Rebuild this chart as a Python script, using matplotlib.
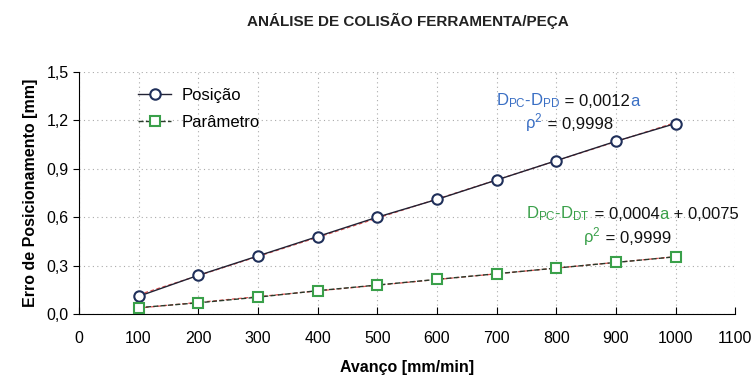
import numpy as np
import matplotlib
matplotlib.use("Agg")
import matplotlib.pyplot as plt
from matplotlib.offsetbox import TextArea, HPacker, AnnotationBbox
from matplotlib.ticker import FuncFormatter

plt.rcParams['font.family'] = ['Liberation Sans', 'DejaVu Sans']

avanco = [100, 200, 300, 400, 500, 600, 700, 800, 900, 1000]
posicao = [0.11, 0.24, 0.36, 0.48, 0.60, 0.71, 0.83, 0.95, 1.07, 1.18]
parametro = [0.04, 0.07, 0.105, 0.145, 0.18, 0.215, 0.25, 0.285, 0.32, 0.355]

blue = '#3a6fc4'
green = '#3aa04a'
navy = '#1f2f5a'

fig = plt.figure(figsize=(7.51, 3.78), dpi=100)
ax = fig.add_axes([0.105, 0.169, 0.874, 0.641])

ax.plot(avanco, posicao, '-', color='#222233', lw=1.0, marker='o', ms=7.5,
        mfc='white', mec=navy, mew=1.5, label='Posição', zorder=3)
ax.plot(avanco, parametro, '--', color='#2a3a2a', lw=1.0, marker='s', ms=7.5,
        mfc='white', mec=green, mew=1.5, label='Parâmetro', zorder=3)

# linhas de tendencia
xs = np.array(avanco)
for ys in (posicao, parametro):
    k, b = np.polyfit(xs, ys, 1)
    ax.plot(xs, k * xs + b, '--', color='#e05050', lw=0.9, dashes=(3, 2), zorder=2)

ax.set_xlim(0, 1100)
ax.set_ylim(0, 1.5)
ax.set_xticks(range(0, 1101, 100))
ax.set_yticks(np.arange(0, 1.51, 0.3))
ax.yaxis.set_major_formatter(FuncFormatter(lambda v, p: f'{v:.1f}'.replace('.', ',')))
ax.grid(True, ls=(0, (1, 3)), color='#aaaaaa', lw=0.8)
ax.spines['top'].set_visible(False)
ax.spines['right'].set_visible(False)
ax.tick_params(axis='x', direction='in', length=5, labelsize=11.5, pad=12)
ax.tick_params(axis='y', direction='out', length=4, labelsize=11.5)

ax.set_xlabel('Avanço [mm/min]', fontsize=11.5, fontweight='bold', labelpad=10)
ax.set_ylabel('Erro de Posicionamento [mm]', fontsize=11.5, fontweight='bold', labelpad=6)
fig.text(0.543, 0.945, 'ANÁLISE DE COLISÃO FERRAMENTA/PEÇA', ha='center', va='center',
         fontsize=11, fontweight='bold', color='#222222')

ax.legend(loc='upper left', bbox_to_anchor=(0.09, 0.935), frameon=False,
          borderpad=0, borderaxespad=0,
          fontsize=12, handlelength=2.0, handletextpad=0.6, labelspacing=0.75)


def equation(parts, xy, size=12):
    boxes = [TextArea(t, textprops=dict(color=c, fontsize=size)) for t, c in parts]
    pack = HPacker(children=boxes, align='baseline', pad=0, sep=0)
    ab = AnnotationBbox(pack, xy, xycoords='figure pixels', frameon=False,
                        box_alignment=(0, 0.5), pad=0)
    fig.add_artist(ab)


equation([(r'$\mathregular{D_{PC}}$-$\mathregular{D_{PD}}$', blue),
          (' = 0,0012', '#111111'), ('a', blue)], (496, 378 - 101))
equation([(r'$\mathregular{\rho^2}$', blue), (' = 0,9998', '#111111')], (525, 378 - 123))
equation([(r'$\mathregular{D_{PC}}$-$\mathregular{D_{DT}}$', green),
          (' = 0,0004', '#111111'), ('a', green), (' + 0,0075', '#111111')], (526, 378 - 214))
equation([(r'$\mathregular{\rho^2}$', green), (' = 0,9999', '#111111')], (583, 378 - 237))

fig.savefig('out.png', dpi=100)
